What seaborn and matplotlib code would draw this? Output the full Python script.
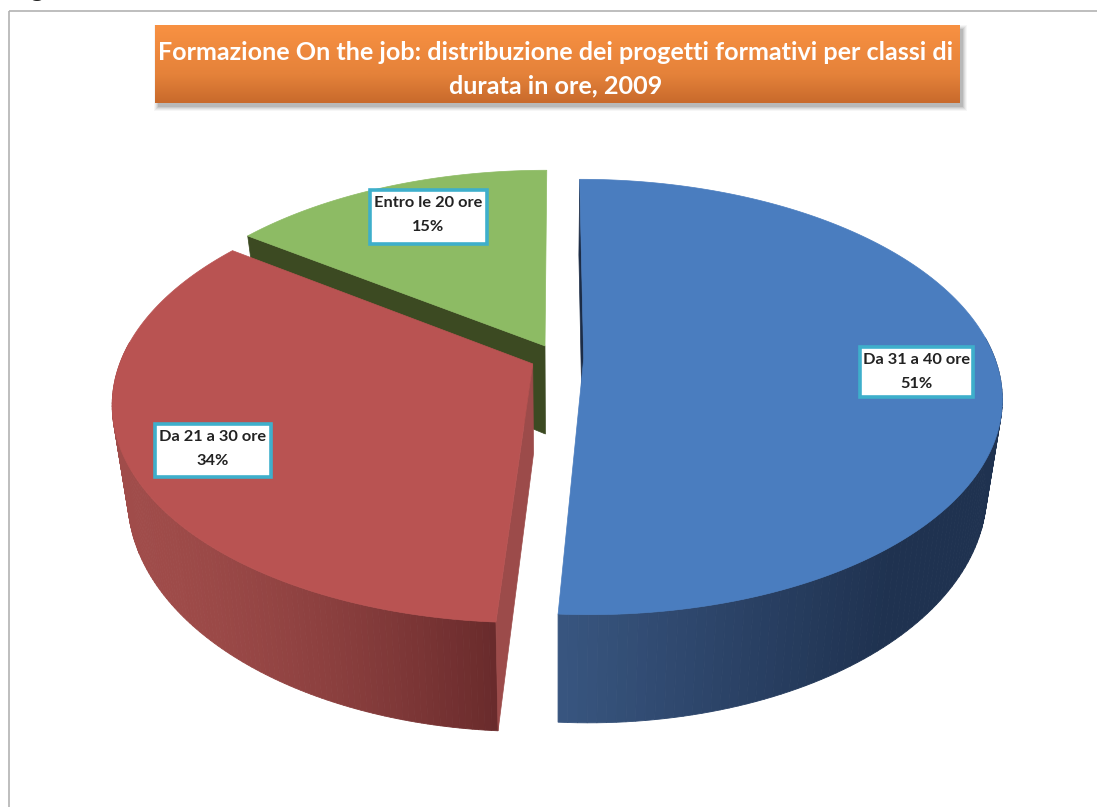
import numpy as np
import matplotlib
matplotlib.use("Agg")
import matplotlib.pyplot as plt
import seaborn as sns
from matplotlib.patches import Rectangle

categories = ["Da 31 a 40 ore", "Da 21 a 30 ore", "Entro le 20 ore"]
shares = [51, 34, 15]
title_lines = ["Formazione On the job: distribuzione dei progetti formativi per classi di",
               "durata in ore, 2009"]

top_colors = ["#4a7dbf", "#b95352", "#8dbb64"]
wall_light = ["#38557f", "#a04c4a", "#55702f"]
wall_dark = ["#1f3250", "#682a2b", "#3c4a22"]
cut_colors = ["#1c2c46", "#9c4b4a", "#3c4a22"]

# box corners of the data labels, in pixels
label_boxes = [(860, 347, 973, 397), (155, 424, 271, 477), (370, 190, 487, 244)]

# perspective of the pie, in pixels
CX, CY = 557, 358
RX, RY = 411, 210.7
TILT = 0.177
EXPLODE = 0.065
DEPTH = 89
BOTTOM_SCALE = 0.965


def project(u, v):
    w = 1 + TILT * v
    return CX + RX * u / w, CY - RY * v / w, w


def project_bottom(u, v):
    x, y, w = project(u, v)
    return CX + (x - CX) * BOTTOM_SCALE, y + DEPTH / w


def blend(c1, c2, t):
    c1, c2 = np.array(matplotlib.colors.to_rgb(c1)), np.array(matplotlib.colors.to_rgb(c2))
    return tuple(c1 + (c2 - c1) * t)


sns.set_theme(style="white")
plt.rcParams["font.family"] = ["Lato", "DejaVu Sans"]

fig = plt.figure(figsize=(10.97, 8.07), dpi=100)
ax = fig.add_axes([0, 0, 1, 1])

# let pie work out the slice angles, then redraw them in perspective
wedges, _ = ax.pie(shares, startangle=90, counterclock=False)
angles = [(w.theta1, w.theta2) for w in wedges]
for w in wedges:
    w.remove()

ax.set_aspect("auto")
ax.axis("off")

# chart frame, runs off the right and bottom of the picture
ax.add_patch(Rectangle((9, 11), 1200, 1000, fill=False, ec="#b3b3b3", lw=1.2))
ax.text(10, -3, "Figura", fontsize=19, fontweight="bold", color="#222222",
        va="baseline", ha="left", clip_on=True)

# title box with a soft shadow and a vertical gradient
for grow, alpha in zip([5, 4, 3, 2, 1], [0.05, 0.07, 0.09, 0.12, 0.16]):
    ax.add_patch(Rectangle((159 - grow, 30 - grow), 803 + 2 * grow, 76 + 2 * grow,
                           fc="#555555", ec="none", alpha=alpha, zorder=1))
grad = np.array([blend("#f89142", "#e5823a", t) for t in np.linspace(0, 1, 50)]
                + [blend("#e5823a", "#c86a2c", t) for t in np.linspace(0, 1, 30)])
ax.imshow(grad[:, None, :], extent=(155, 960, 103, 25), aspect="auto", zorder=2)
ax.set_xlim(0, 1097)
ax.set_ylim(807, 0)
ax.text(556, 52, title_lines[0], color="white", fontsize=18.1, fontweight="bold",
        ha="center", va="center", zorder=3)
ax.text(556, 86, title_lines[1], color="white", fontsize=18.1, fontweight="bold",
        ha="center", va="center", zorder=3)

# back to front: green, red, blue
for i in [2, 1, 0]:
    t1, t2 = angles[i]
    mid = np.radians((t1 + t2) / 2)
    ox, oy = EXPLODE * np.cos(mid), EXPLODE * np.sin(mid)
    th = np.radians(np.linspace(t1, t2, 160))
    u, v = np.cos(th) + ox, np.sin(th) + oy
    xt, yt, _ = project(u, v)
    xb, yb = project_bottom(u, v)
    ax0, ay0, _ = project(np.array([ox]), np.array([oy]))
    bx0, by0 = project_bottom(np.array([ox]), np.array([oy]))

    # outer wall, shaded along the rim
    for k in range(len(th) - 1):
        if np.sin(th[k]) + np.sin(th[k + 1]) > 0.2:
            continue
        if i == 0:
            shade = min(1, (xt[k] - 558) / 330)
        else:
            shade = min(1, max(0, (xt[k] - 120) / 375)) ** 1.6
        col = blend(wall_light[i], wall_dark[i], max(0, shade))
        ax.fill([xt[k], xt[k + 1], xb[k + 1], xb[k]], [yt[k], yt[k + 1], yb[k + 1], yb[k]],
                fc=col, ec=col, lw=0.6, zorder=5)

    # cut face on the clockwise-start side of each slice
    ax.fill([ax0[0], xt[-1], xb[-1], bx0[0]], [ay0[0], yt[-1], yb[-1], by0[0]],
            fc=cut_colors[i], ec=cut_colors[i], lw=0.5, zorder=5)

    ax.fill(np.r_[ax0, xt], np.r_[ay0, yt], fc=top_colors[i], ec=top_colors[i], lw=0.5, zorder=5)

# data labels
for cat, share, box in zip(categories, shares, label_boxes):
    x0, y0, x1, y1 = box
    ax.add_patch(Rectangle((x0, y0), x1 - x0, y1 - y0, fc="white", ec="#3eafcb", lw=2.6, zorder=6))
    ax.text((x0 + x1) / 2, y0 + 13, cat, fontsize=11.8, fontweight="bold", color="#222222",
            ha="center", va="center", zorder=7)
    ax.text((x0 + x1) / 2, y0 + 37, f"{share}%", fontsize=11.8, fontweight="bold", color="#222222",
            ha="center", va="center", zorder=7)

fig.savefig("out.png", dpi=100, facecolor="white")
